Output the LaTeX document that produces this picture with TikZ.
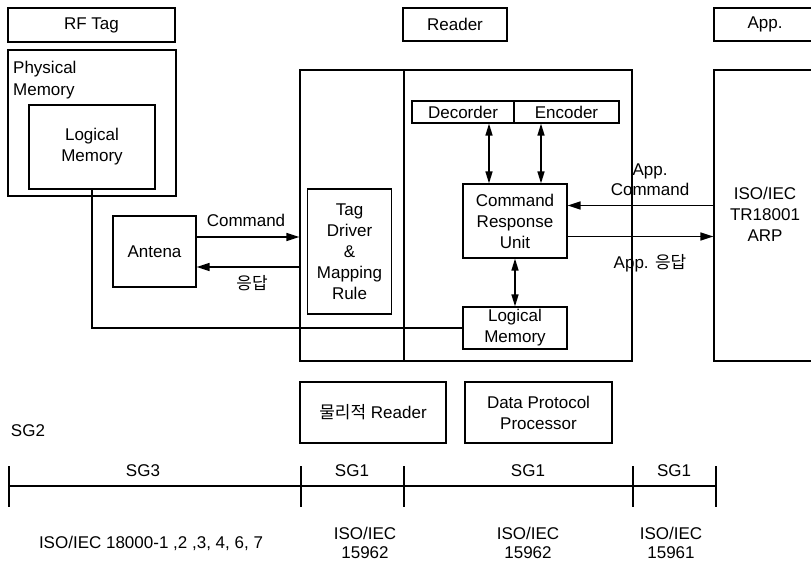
\documentclass[tikz,border=0pt]{standalone}
\usepackage{fontspec}
\setmainfont{Liberation Sans}
\newfontfamily\kr{Noto Sans CJK KR}[Scale=1.0]
\usetikzlibrary{arrows.meta}
\newcommand{\lbl}{\fontsize{17}{21}\selectfont}
\tikzset{
  box/.style={draw, line width=1.2pt, inner sep=0pt, align=center, font=\lbl},
  txt/.style={inner sep=0pt, align=center, font=\lbl},
  arr/.style={line width=1.4pt, -{Triangle[length=13pt,width=8pt]}},
  darr/.style={line width=1.4pt, {Triangle[length=12pt,width=7pt]}-{Triangle[length=12pt,width=7pt]}},
  conn/.style={line width=1.2pt},
}
\begin{document}
\begin{tikzpicture}[x=1pt,y=-1pt]
\useasboundingbox (0,0) rectangle (811,564);
\clip (0,0) rectangle (811,564);
\fill[white] (0,0) rectangle (811,564);
% header boxes
\node[box, minimum width=167pt, minimum height=34pt] (rftag) at (91.5,25) {RF Tag};
\node[box, minimum width=104pt, minimum height=33pt] (rdrlbl) at (455,24.5) {Reader};
\node[box, minimum width=120pt, minimum height=33pt] (applbl) at (774,24.5) {};
\node[txt] (apptxt) at (765,24.5) {App.};
% tag side
\node[box, minimum width=168pt, minimum height=146pt] (phys) at (92,123) {};
\node[txt, anchor=north west, align=left, font=\fontsize{17}{22}\selectfont] (physlbl) at (13,61) {Physical\\Memory};
\node[box, minimum width=126pt, minimum height=84pt] (tlog) at (92,147) {Logical\\Memory};
\node[box, minimum width=83pt, minimum height=71pt] (ant) at (154.5,251.5) {Antena};
% reader
\node[box, minimum width=332pt, minimum height=291pt] (rdr) at (466,215.5) {};
\draw[conn] (404,70) -- (404,361);
\node[box, minimum width=84pt, minimum height=125pt] (tagdrv) at (349.5,251.5) {Tag\\Driver\\\&\\Mapping\\Rule};
\node[box, minimum width=102pt, minimum height=22pt] (dec) at (463,112) {Decorder};
\node[box, minimum width=105pt, minimum height=22pt] (enc) at (566.5,112) {Encoder};
\node[box, minimum width=104pt, minimum height=74pt] (cru) at (515,221) {Command\\Response\\Unit};
\node[box, minimum width=104pt, minimum height=42pt] (rlog) at (515,328) {Logical\\Memory};
% app
\node[box, minimum width=120pt, minimum height=291pt] (appbox) at (774,215.5) {};
\node[txt] (arp) at (765,214) {ISO/IEC\\TR18001\\ARP};
% connectors
\coordinate (yc) at (0,237);
\coordinate (yr) at (0,267);
\draw[arr] (ant.east |- yc) -- (rdr.west |- yc);
\draw[arr] (rdr.west |- yr) -- (ant.east |- yr);
\node[txt] (cmdlbl) at (246,220) {Command};
\node[txt] (reslbl) at (252,283) {\kr 응답};
\draw[conn] (tlog.south) |- (rlog.west);
\coordinate (xa) at (489,0);
\coordinate (xb) at (541,0);
\draw[darr] (xa |- dec.south) -- (xa |- cru.north);
\draw[darr] (xb |- enc.south) -- (xb |- cru.north);
\draw[darr] (cru.south) -- (rlog.north);
\coordinate (ya) at (0,205.5);
\coordinate (yb) at (0,236.5);
\draw[arr] (appbox.west |- ya) -- (cru.east |- ya);
\draw[arr] (cru.east |- yb) -- (appbox.west |- yb);
\node[txt, font=\fontsize{17}{20}\selectfont] (acmd) at (650,180) {App.\\Command};
\node[txt] (ares) at (650,263) {App. {\kr 응답}};
% bottom boxes
\node[box, minimum width=146pt, minimum height=61pt] (phyr) at (373,412.5) {{\kr 물리적} Reader};
\node[box, minimum width=147pt, minimum height=61pt] (dpp) at (538.5,412.5) {Data Protocol\\Processor};
\node[txt] (sg2) at (28,431) {SG2};
% scale
\draw[conn] (9,486) -- (716,486);
\foreach \x in {9,301,404,633,716} \draw[conn] (\x,466) -- (\x,507);
\node[txt] (sg3) at (143,471) {SG3};
\node[txt] (sg1a) at (352,471) {SG1};
\node[txt] (sg1b) at (528,471) {SG1};
\node[txt] (sg1c) at (674,471) {SG1};
\node[txt] (iso1) at (151,543) {ISO/IEC 18000-1 ,2 ,3, 4, 6, 7};
\node[txt, font=\fontsize{17}{19}\selectfont] (iso2) at (365,543) {ISO/IEC\\15962};
\node[txt, font=\fontsize{17}{19}\selectfont] (iso3) at (528,543) {ISO/IEC\\15962};
\node[txt, font=\fontsize{17}{19}\selectfont] (iso4) at (671,543) {ISO/IEC\\15961};
\end{tikzpicture}
\end{document}
